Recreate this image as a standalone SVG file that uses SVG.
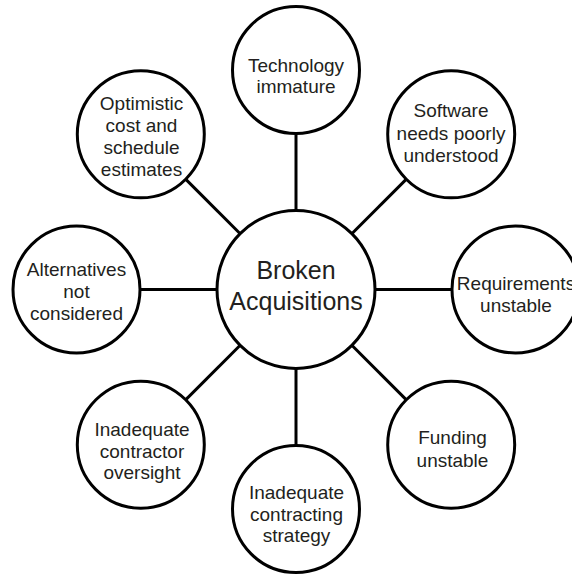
<svg xmlns="http://www.w3.org/2000/svg" width="572" height="574" viewBox="0 0 572 574">
<style>
  .node circle { fill: #ffffff; stroke: #000000; stroke-width: 3; }
  .node text { font-family: "Liberation Sans", Arial, sans-serif; font-size: 19px; fill: #231f20; text-anchor: middle; }
  #center text { font-size: 25px; }
  #connectors line { stroke: #000000; stroke-width: 3; }
</style>
<rect width="572" height="574" fill="#ffffff"/>
<g id="connectors">
  <line x1="296" y1="210" x2="296" y2="134"/>
  <line x1="352.3" y1="233.2" x2="405.9" y2="179.6"/>
  <line x1="375.5" y1="289.5" x2="452" y2="289.5"/>
  <line x1="352.3" y1="345.8" x2="405.9" y2="399.4"/>
  <line x1="296" y1="369" x2="296" y2="445.5"/>
  <line x1="239.7" y1="345.8" x2="186.1" y2="399.4"/>
  <line x1="216.5" y1="289.5" x2="140" y2="289.5"/>
  <line x1="239.7" y1="233.2" x2="186.1" y2="179.6"/>
</g>
<g id="center" class="node">
  <circle cx="296" cy="289.5" r="79"/>
  <text x="296" y="279">Broken</text>
  <text x="296" y="310">Acquisitions</text>
</g>
<g id="technology" class="node">
  <circle cx="296" cy="70" r="63.5"/>
  <text x="296" y="72">Technology</text>
  <text x="296" y="93">immature</text>
</g>
<g id="software" class="node">
  <circle cx="451.2" cy="134.3" r="63.5"/>
  <text x="451" y="117">Software</text>
  <text x="451" y="139.5">needs poorly</text>
  <text x="451" y="161.5">understood</text>
</g>
<g id="requirements" class="node">
  <circle cx="515.5" cy="289.5" r="63.5"/>
  <text x="516" y="289.5">Requirements</text>
  <text x="516" y="311.5">unstable</text>
</g>
<g id="funding" class="node">
  <circle cx="451.2" cy="444.7" r="63.5"/>
  <text x="452.5" y="444">Funding</text>
  <text x="452.5" y="466.5">unstable</text>
</g>
<g id="contracting" class="node">
  <circle cx="296" cy="509" r="63.5"/>
  <text x="296.5" y="499">Inadequate</text>
  <text x="296.5" y="520.5">contracting</text>
  <text x="296.5" y="542">strategy</text>
</g>
<g id="oversight" class="node">
  <circle cx="140.8" cy="444.7" r="63.5"/>
  <text x="142" y="436">Inadequate</text>
  <text x="142" y="457.5">contractor</text>
  <text x="142" y="479">oversight</text>
</g>
<g id="alternatives" class="node">
  <circle cx="76.5" cy="289.5" r="63.5"/>
  <text x="76.5" y="276">Alternatives</text>
  <text x="76.5" y="297.5">not</text>
  <text x="76.5" y="320">considered</text>
</g>
<g id="optimistic" class="node">
  <circle cx="140.8" cy="134.3" r="63.5"/>
  <text x="141.5" y="109.5">Optimistic</text>
  <text x="141.5" y="131.5">cost and</text>
  <text x="141.5" y="154">schedule</text>
  <text x="141.5" y="176">estimates</text>
</g>
</svg>
